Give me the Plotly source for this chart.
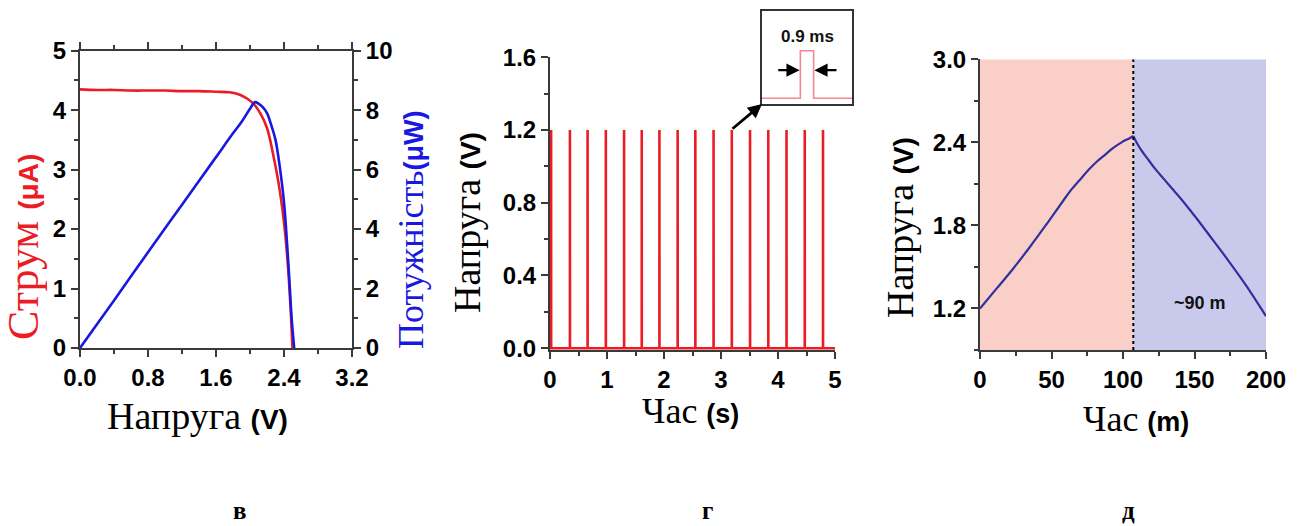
import plotly.graph_objects as go

# ---------------- panel "в": current / power vs voltage ----------------
iv_voltage = [0.0, 0.2, 0.4, 0.6, 0.8, 1.0, 1.2, 1.4, 1.6, 1.76, 1.88, 1.96, 2.04,
              2.12, 2.2, 2.27, 2.35, 2.41, 2.45, 2.48, 2.5]
iv_current = [4.35, 4.34, 4.34, 4.33, 4.33, 4.33, 4.32, 4.32, 4.31, 4.30, 4.26, 4.20, 4.11,
              3.95, 3.70, 3.27, 2.65, 1.98, 1.31, 0.6, 0.0]

pv_voltage = [0.0, 0.4, 0.8, 1.2, 1.6, 1.8, 1.9, 2.0, 2.06, 2.1, 2.15, 2.2, 2.25,
              2.3, 2.35, 2.4, 2.45, 2.49, 2.52]
pv_power = [0.0, 1.6, 3.22, 4.82, 6.42, 7.22, 7.6, 8.05, 8.27, 8.22, 8.1, 7.9, 7.5,
            7.0, 6.1, 4.9, 2.9, 1.0, 0.0]

# ---------------- panel "г": voltage pulses ----------------
pulse_times = [0.02, 0.35, 0.66, 0.98, 1.30, 1.61, 1.92, 2.24, 2.55, 2.87,
               3.19, 3.51, 3.83, 4.15, 4.47, 4.79]
pulse_amplitude = 1.2
pulse_width_ms = 0.9
record_end_s = 5.0
inset_span_ms = 3.05

# ---------------- panel "д": charge / discharge ----------------
charge_time = [0.0, 11.7, 23.3, 35.0, 46.6, 58.3, 64.0, 69.9, 75.8, 81.6, 87.4, 93.2, 99.0, 104.9, 107.2]
charge_voltage = [1.2, 1.345, 1.489, 1.646, 1.81, 1.98, 2.06, 2.13, 2.20, 2.26, 2.31, 2.36, 2.40, 2.432, 2.446]
discharge_time = [107.2, 110.0, 113.0, 116.6, 122.4, 128.2, 134.0, 139.9, 151.5, 163.2, 174.8, 186.5, 200.0]
discharge_voltage = [2.446, 2.39, 2.34, 2.29, 2.21, 2.14, 2.07, 2.0, 1.85, 1.69, 1.53, 1.36, 1.145]
charge_end = 107.2

W, H = 1303, 526


def px(x):
    return x / W


def py(y):
    return 1 - y / H


RED = "#ec1c24"
BLUE = "#1818e0"
AXIS = "#3a3a3a"
SANS = "Liberation Sans"
SERIF = "Liberation Serif"
TICKFONT = dict(family=SANS, size=24, color="black", weight="bold")

fig = go.Figure()

# panel в traces
fig.add_trace(go.Scatter(x=iv_voltage, y=iv_current, mode="lines", line_shape="spline",
                         line=dict(color=RED, width=2.6), xaxis="x", yaxis="y"))
fig.add_trace(go.Scatter(x=pv_voltage, y=pv_power, mode="lines", line_shape="spline",
                         line=dict(color=BLUE, width=2.6), xaxis="x", yaxis="y2"))

# panel г pulse train
half = pulse_width_ms / 1000 / 2
train_x, train_y = [0.0], [0.0]
for t in pulse_times:
    train_x += [t - half, t - half, t + half, t + half]
    train_y += [0.0, pulse_amplitude, pulse_amplitude, 0.0]
train_x.append(record_end_s)
train_y.append(0.0)
fig.add_trace(go.Scatter(x=train_x, y=train_y, mode="lines",
                         line=dict(color=RED, width=2.6), xaxis="x3", yaxis="y3"))

# single pulse zoomed (inset), time in ms
hw = pulse_width_ms / 2
fig.add_trace(go.Scatter(
    x=[-inset_span_ms, -hw, -hw, hw, hw, inset_span_ms],
    y=[0.0, 0.0, pulse_amplitude, pulse_amplitude, 0.0, 0.0],
    mode="lines", line=dict(color="#f58a8a", width=1.6), xaxis="x5", yaxis="y5"))

# panel д traces
fig.add_trace(go.Scatter(x=charge_time, y=charge_voltage, mode="lines", line_shape="spline",
                         line=dict(color="#30309e", width=2.2), xaxis="x4", yaxis="y4"))
fig.add_trace(go.Scatter(x=discharge_time, y=discharge_voltage, mode="lines", line_shape="spline",
                         line=dict(color="#30309e", width=2.2), xaxis="x4", yaxis="y4"))

axis_common = dict(showgrid=False, zeroline=False, showline=True, linecolor=AXIS, linewidth=2,
                   ticks="outside", ticklen=7, tickwidth=2, tickcolor=AXIS, automargin=False,
                   tickfont=TICKFONT, fixedrange=True)


def minor(d):
    return dict(dtick=d, ticks="outside", ticklen=4, tickwidth=1.5, tickcolor=AXIS, showgrid=False)


inset_axis = dict(showline=True, mirror=True, linecolor="#333", linewidth=1.6, automargin=False,
                  showticklabels=False, ticks="", showgrid=False, zeroline=False, fixedrange=True)

fig.update_layout(
    width=W, height=H, margin=dict(l=0, r=0, t=0, b=0, pad=0, autoexpand=False),
    paper_bgcolor="white", plot_bgcolor="rgba(0,0,0,0)", showlegend=False,
    xaxis=dict(**axis_common, domain=[px(80), px(352)], range=[0, 3.2], tick0=0, dtick=0.8,
               tickformat=".1f", minor=minor(0.4), mirror="ticks", anchor="y"),
    yaxis=dict(**axis_common, domain=[py(348), py(50.7)], range=[0, 5], dtick=1,
               minor=minor(0.5), anchor="x"),
    yaxis2=dict(**axis_common, overlaying="y", side="right", range=[0, 10], dtick=2,
                minor=minor(1), anchor="x"),
    xaxis3=dict(**axis_common, domain=[px(550), px(835)], range=[0, 5], dtick=1,
                minor=minor(0.5), anchor="y3", layer="below traces"),
    yaxis3=dict(**axis_common, domain=[py(350), py(57.3)], range=[-0.01, 1.6], tick0=0, dtick=0.4,
                tickformat=".1f", minor=minor(0.2), anchor="x3", layer="below traces"),
    xaxis4=dict(**axis_common, domain=[px(980), px(1266)], range=[0, 200], dtick=50,
                minor=minor(25), anchor="y4"),
    yaxis4=dict(**axis_common, domain=[py(350), py(59.3)], range=[0.9, 3.0],
                tickvals=[1.2, 1.8, 2.4, 3.0], tickformat=".1f", minor=minor(0.3), anchor="x4"),
    xaxis5=dict(**inset_axis, domain=[px(762), px(852)], range=[-inset_span_ms, inset_span_ms],
                anchor="y5"),
    yaxis5=dict(**inset_axis, domain=[py(104), py(10.7)], range=[-0.144, 2.21], anchor="x5"),
)

# shaded charge / discharge regions and the switch-over marker
fig.add_shape(type="rect", xref="x4", yref="y4", x0=0, x1=charge_end, y0=0.9, y1=3.0,
              fillcolor="#f9cfc7", line_width=0, layer="below")
fig.add_shape(type="rect", xref="x4", yref="y4", x0=charge_end, x1=200, y0=0.9, y1=3.0,
              fillcolor="#c9c9ec", line_width=0, layer="below")
fig.add_shape(type="line", xref="x4", yref="y4", x0=charge_end, x1=charge_end, y0=0.9, y1=3.0,
              line=dict(color="black", width=2, dash="dot"))


def title(text, x, y, color="black", angle=0, serif_size=38, sans_size=28):
    return dict(xref="paper", yref="paper", x=px(x), y=py(y), xanchor="center", yanchor="middle",
                showarrow=False, textangle=angle,
                text=text.format(s=f'<span style="font-family:{SANS};font-weight:bold;'
                                   f'font-size:{sans_size}px">', e="</span>"),
                font=dict(family=SERIF, size=serif_size, color=color))


annotations = [
    title("Напруга {s}(V){e}", 197, 416),
    title("Струм {s}(μA){e}", 24, 247, RED, -90, 44, 28),
    title("Потужність{s}(μW){e}", 411, 230, BLUE, -90, 36, 27),
    title("Напруга {s}(V){e}", 467, 223, angle=-90),
    title("Час {s}(s){e}", 690, 411, serif_size=36, sans_size=27),
    title("Напруга {s}(V){e}", 900, 228, angle=-90),
    title("Час {s}(m){e}", 1136, 419, serif_size=36, sans_size=27),
    dict(xref="x4", yref="y4", x=154, y=1.24, text="~90 m", showarrow=False,
         font=dict(family=SANS, size=18, color="#111", weight="bold")),
    dict(xref="x5", yref="y5", x=0, y=1.55, text="0.9 ms", showarrow=False,
         font=dict(family=SANS, size=17, color="#111", weight="bold")),
    # width markers around the single pulse
    dict(xref="x5", yref="y5", axref="x5", ayref="y5", x=-hw - 0.05, y=0.71, ax=-2.05, ay=0.71,
         showarrow=True, arrowhead=2, arrowsize=1.2, arrowwidth=2.2, arrowcolor="black", text=""),
    dict(xref="x5", yref="y5", axref="x5", ayref="y5", x=hw + 0.05, y=0.71, ax=2.1, ay=0.71,
         showarrow=True, arrowhead=2, arrowsize=1.2, arrowwidth=2.2, arrowcolor="black", text=""),
    # pointer from a pulse to the inset
    dict(xref="paper", yref="paper", x=px(762), y=py(104), ax=-31, ay=26,
         showarrow=True, arrowhead=2, arrowsize=1, arrowwidth=2.8, arrowcolor="black", text=""),
]
for label, x in [("в", 240), ("г", 707), ("д", 1128)]:
    annotations.append(dict(xref="paper", yref="paper", x=px(x), y=py(510), text=label,
                            showarrow=False, xanchor="center", yanchor="middle",
                            font=dict(family=SERIF, size=25, color="black", weight="bold")))

fig.update_layout(annotations=annotations)

fig.write_html("out.html")
